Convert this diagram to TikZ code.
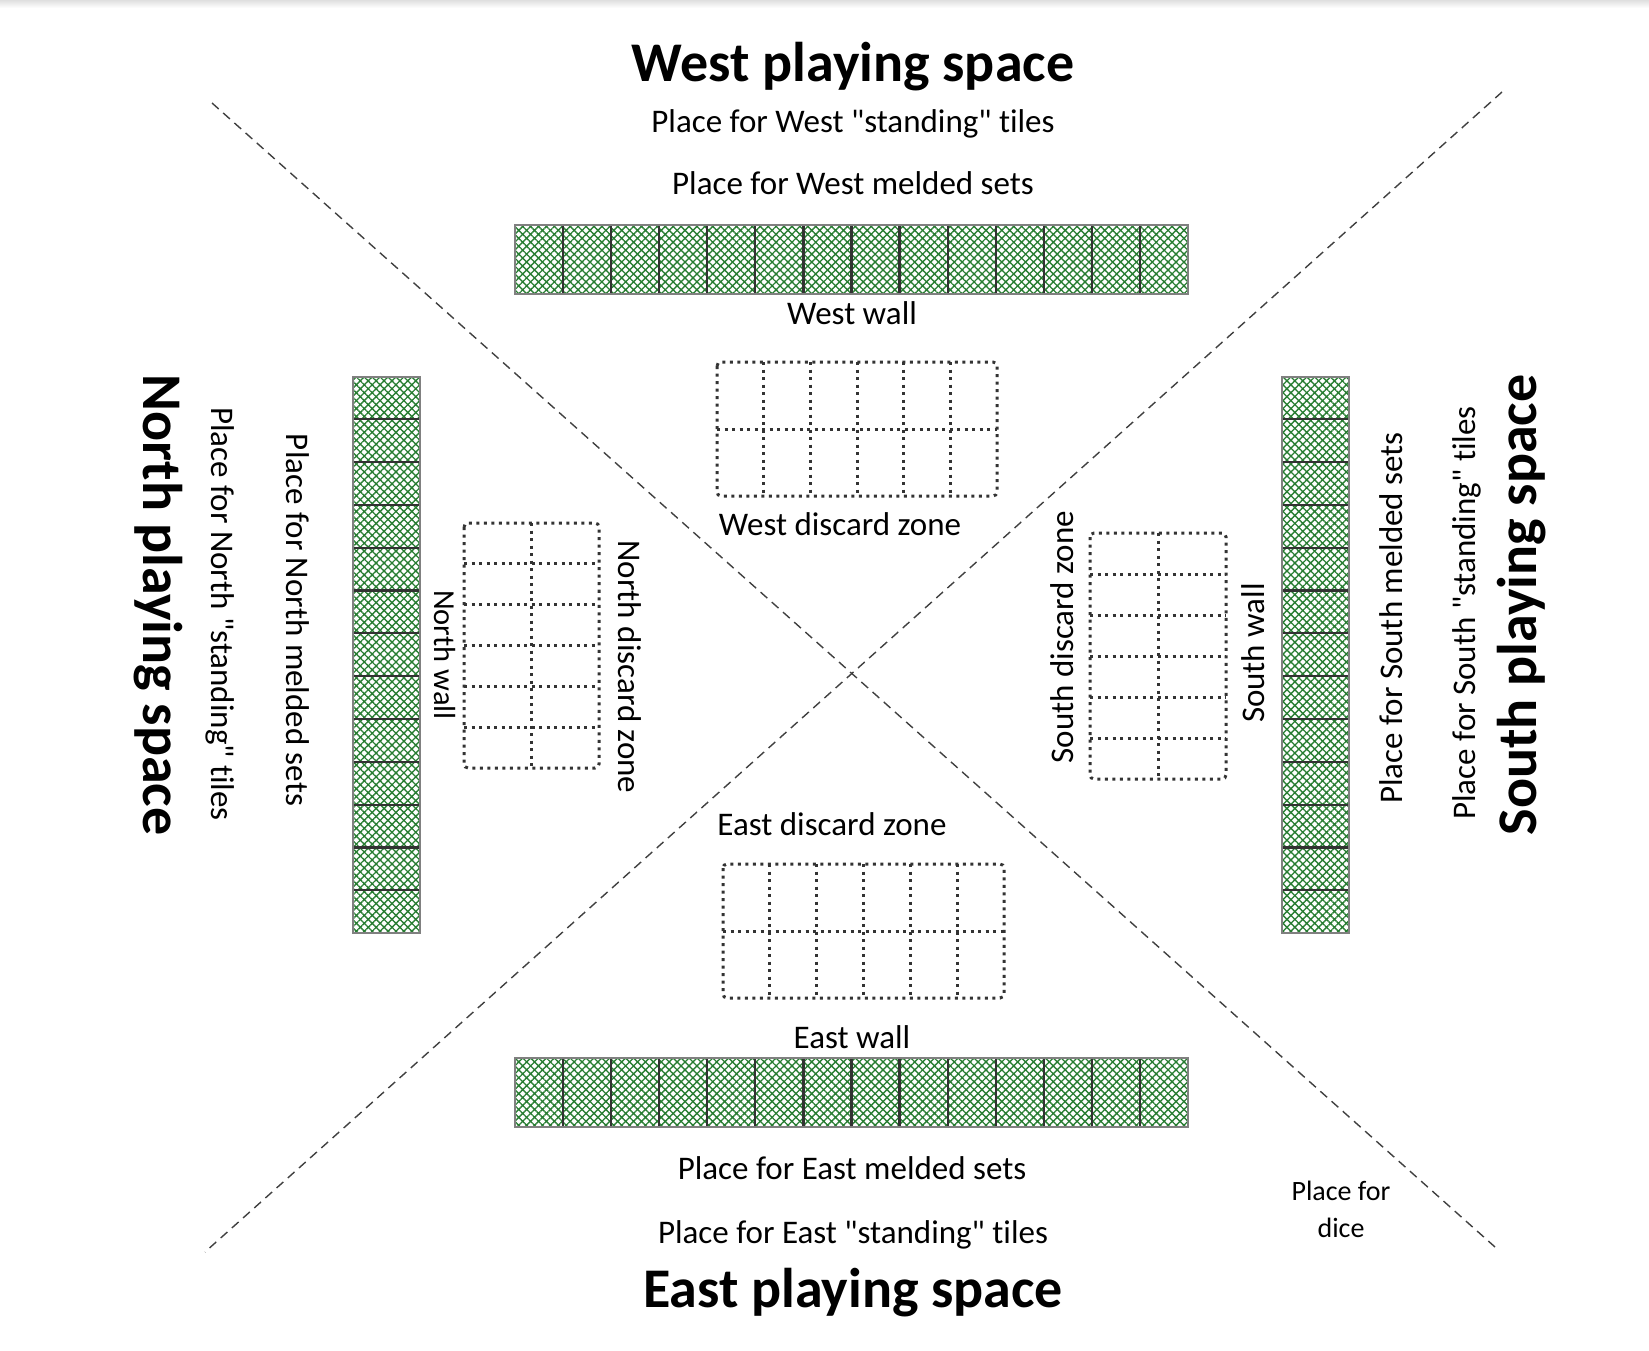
\documentclass[tikz,border=0pt]{standalone}
\usepackage{fontspec}
\setmainfont{Carlito}[Ligatures={TeXOff,NoCommon}]
\usetikzlibrary{patterns.meta}
\definecolor{tilegreen}{RGB}{40,125,50}
\definecolor{tileedge}{RGB}{50,50,50}
\begin{document}
\begin{tikzpicture}[x=1pt,y=-1pt,
    big/.style={font=\fontsize{56}{60}\selectfont\bfseries,anchor=base,inner sep=0pt},
    lbl/.style={font=\fontsize{33}{38}\selectfont,anchor=base,inner sep=0pt},
    hatched/.style={pattern={Hatch[angle=45,distance=5.6pt,line width=1.35pt]},pattern color=tilegreen},
    zone/.style={line width=3pt,dash pattern=on 3pt off 4.5pt,black!80},
    split/.style={dash pattern=on 9pt off 6pt,line width=1.4pt,black!75}]
\useasboundingbox (0,0) rectangle (1649,1351);
\shade[top color=gray!25,bottom color=white] (0,0) rectangle (1649,8);
% diagonals
\coordinate (nw) at (212,103); \coordinate (se) at (1495,1247);
\coordinate (ne) at (1502,92); \coordinate (sw) at (205,1252);
\draw[split] (nw)--(se);
\draw[split] (ne)--(sw);
% walls
\foreach \y in {225,1058}{
    \fill[hatched] (515,\y) rectangle (1188,\y+69);
    \foreach \n in {1,...,13}
        \draw[tileedge,line width=2.2pt] ({515+48.07*\n},\y)--++(0,69);
    \draw[gray,line width=2pt] (515,\y) rectangle (1188,\y+69);
}
\foreach \x in {353,1282}{
    \fill[hatched] (\x,376.5) rectangle (\x+66.5,933);
    \foreach \n in {1,...,12}
        \draw[tileedge,line width=2.2pt] (\x,{376.5+42.81*\n})--++(66.5,0);
    \draw[gray,line width=2pt] (\x,376.5) rectangle (\x+66.5,933);
}
% discard zones
\foreach \x/\y/\c/\r/\w/\h in {717/362/6/2/280/134,723/864/6/2/281/134,464/523/2/6/135/245,1090/533/2/6/136/246}{
    \pgfmathtruncatemacro\cc{\c-1}
    \pgfmathtruncatemacro\rr{\r-1}
    \draw[zone,rounded corners=4pt] (\x,\y) rectangle (\x+\w,\y+\h);
    \foreach \n in {1,...,\cc}
        \draw[zone] ({\x+\w/\c*\n},\y)--++(0,\h);
    \foreach \n in {1,...,\rr}
        \draw[zone] (\x,{\y+\h/\r*\n})--++(\w,0);
}
% west
\node[big] (westtitle) at (853,82) {West playing space};
\node[lbl] (weststand) at (853,133) {Place for West "standing" tiles};
\node[lbl] (westmeld) at (853,195) {Place for West melded sets};
\node[lbl] (westwall) at (852,324) {West wall};
\node[lbl] (westzone) at (840,535) {West discard zone};
% east
\node[lbl] (eastzone) at (832,835) {East discard zone};
\node[lbl] (eastwall) at (852,1048) {East wall};
\node[lbl] (eastmeld) at (852,1179) {Place for East melded sets};
\node[lbl] (eaststand) at (853,1243) {Place for East "standing" tiles};
\node[big] (easttitle) at (853,1307) {East playing space};
% north
\node[big,rotate=-90] (northtitle) at (143,605) {North playing space};
\node[lbl,rotate=-90] (northstand) at (211,614) {Place for North "standing" tiles};
\node[lbl,rotate=-90] (northmeld) at (286,620) {Place for North melded sets};
\node[lbl,rotate=-90,font=\fontsize{30.5}{35}\selectfont] (northwall) at (434,655) {North wall};
\node[lbl,rotate=-90] (northzone) at (618,667) {North discard zone};
% south
\node[lbl,rotate=90] (southzone) at (1073,637) {South discard zone};
\node[lbl,rotate=90] (southwall) at (1264,653) {South wall};
\node[lbl,rotate=90] (southmeld) at (1402,618) {Place for South melded sets};
\node[lbl,rotate=90] (southstand) at (1475,613) {Place for South "standing" tiles};
\node[big,rotate=90] (southtitle) at (1536,605) {South playing space};
% dice
\node[lbl,font=\fontsize{28}{37}\selectfont,align=center] (dice) at (1341,1237) {Place for\\dice};
\end{tikzpicture}
\end{document}
